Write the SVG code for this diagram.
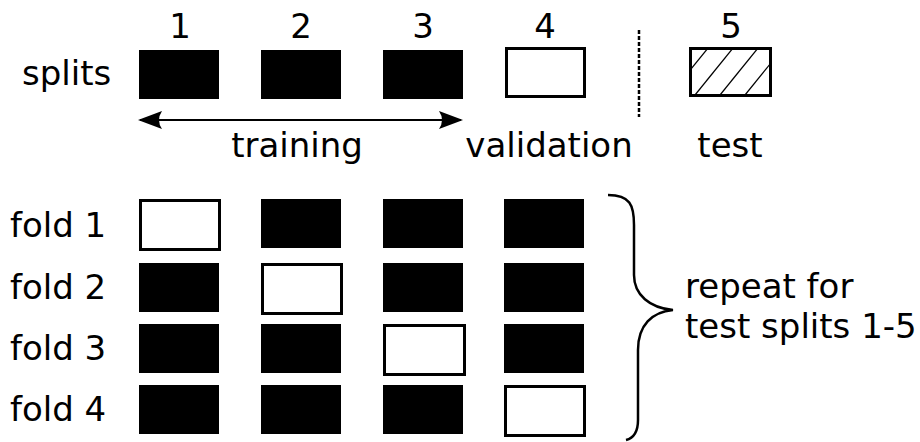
<svg xmlns="http://www.w3.org/2000/svg" width="920" height="442" viewBox="0 0 920 442">
  <style>
    text { font-family: "DejaVu Sans", "Liberation Sans", sans-serif; font-size: 34px; fill: #000; }
    .mid { text-anchor: middle; }
    .full { fill: #000; stroke: none; }
    .empty { fill: #fff; stroke: #000; stroke-width: 3; }
    .thin { fill: none; stroke: #000; stroke-width: 1.2; }
  </style>
  <defs>
    <marker id="head" viewBox="0 0 24 18" refX="22" refY="9" markerWidth="24" markerHeight="18" markerUnits="userSpaceOnUse" orient="auto-start-reverse">
      <path d="M24,9 L0,0 Q6,9 0,18 Z" fill="#000"/>
    </marker>
    <clipPath id="clip5"><rect x="690.5" y="48.5" width="80" height="47"/></clipPath>
  </defs>
  <rect width="920" height="442" fill="#fff"/>

  <!-- split header -->
  <g id="split-labels">
    <text x="22" y="85">splits</text>
    <text class="mid" x="180" y="38">1</text>
    <text class="mid" x="301" y="38">2</text>
    <text class="mid" x="423" y="38">3</text>
    <text class="mid" x="545" y="38">4</text>
    <text class="mid" x="731" y="38">5</text>
  </g>
  <g id="split-1"><rect class="full" x="139" y="50" width="80" height="49"/></g>
  <g id="split-2"><rect class="full" x="261" y="50" width="80" height="49"/></g>
  <g id="split-3"><rect class="full" x="383" y="50" width="80" height="49"/></g>
  <g id="split-4"><rect class="empty" x="506.5" y="48.5" width="78" height="48"/></g>
  <g id="split-5">
    <rect class="empty" x="690.5" y="48.5" width="80" height="47"/>
    <g clip-path="url(#clip5)">
      <line class="thin" x1="708" y1="48" x2="670" y2="95"/>
      <line class="thin" x1="733" y1="48" x2="695" y2="95"/>
      <line class="thin" x1="758" y1="48" x2="720" y2="95"/>
      <line class="thin" x1="783" y1="48" x2="745" y2="95"/>
    </g>
    <rect x="690.5" y="48.5" width="80" height="47" fill="none" stroke="#000" stroke-width="3"/>
  </g>

  <g id="connectors">
    <line x1="140" y1="120" x2="461" y2="120" stroke="#000" stroke-width="2" marker-start="url(#head)" marker-end="url(#head)"/>
    <line x1="639" y1="30" x2="639" y2="117" stroke="#000" stroke-width="2.5" stroke-dasharray="4 2"/>
    <path d="M608,195 C630,195 634,205 634,225 L634,275 C634,295 650,308 673,310 C652,312 638,325 638,350 L638,420 C638,432 634,438 626,440" fill="none" stroke="#000" stroke-width="2.5"/>
  </g>

  <g id="split-names">
    <text class="mid" x="297" y="157">training</text>
    <text class="mid" x="549" y="157">validation</text>
    <text class="mid" x="730" y="157">test</text>
  </g>

  <!-- folds -->
  <g id="fold-1">
    <text x="10" y="237">fold 1</text>
    <rect class="empty" x="140.5" y="200.5" width="79" height="49"/>
    <rect class="full" x="261" y="199" width="80" height="49"/>
    <rect class="full" x="383" y="199" width="80" height="49"/>
    <rect class="full" x="504" y="199" width="80" height="49"/>
  </g>
  <g id="fold-2">
    <text x="10" y="299">fold 2</text>
    <rect class="full" x="139" y="263" width="80" height="49"/>
    <rect class="empty" x="262.5" y="264.5" width="79" height="49"/>
    <rect class="full" x="383" y="263" width="80" height="49"/>
    <rect class="full" x="504" y="263" width="80" height="49"/>
  </g>
  <g id="fold-3">
    <text x="10" y="360">fold 3</text>
    <rect class="full" x="139" y="324" width="80" height="49"/>
    <rect class="full" x="261" y="324" width="80" height="49"/>
    <rect class="empty" x="384.5" y="325.5" width="80" height="49"/>
    <rect class="full" x="504" y="324" width="80" height="49"/>
  </g>
  <g id="fold-4">
    <text x="10" y="421">fold 4</text>
    <rect class="full" x="139" y="385" width="80" height="49"/>
    <rect class="full" x="261" y="385" width="80" height="49"/>
    <rect class="full" x="383" y="385" width="80" height="49"/>
    <rect class="empty" x="505.5" y="386.5" width="79" height="49"/>
  </g>

  <g id="repeat-note">
    <text x="685" y="298">repeat for</text>
    <text x="685" y="338">test splits 1-5</text>
  </g>
</svg>
